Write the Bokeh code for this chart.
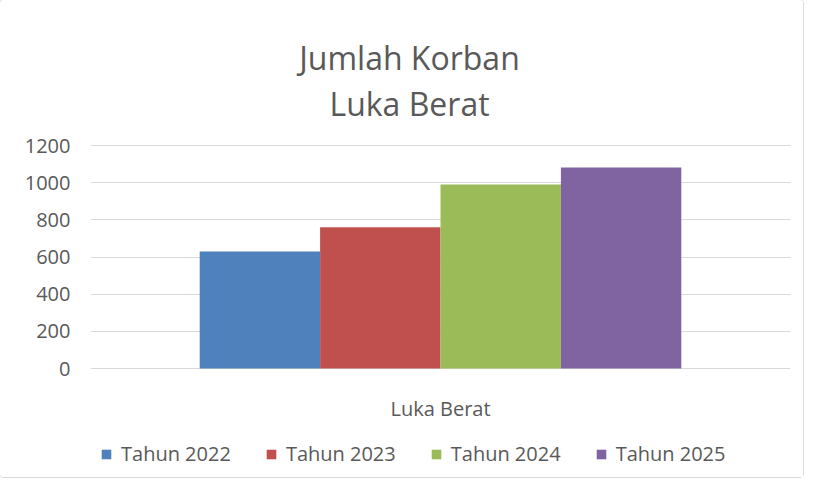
from bokeh.plotting import figure
from bokeh.models import (Label, Legend, LegendItem, FixedTicker, Range1d,
                          ColumnDataSource)
from bokeh.transform import dodge
from bokeh.embed import file_html
from bokeh.resources import INLINE

# ---- data ----
category = ["Luka Berat"]
series_names = ["Tahun 2022", "Tahun 2023", "Tahun 2024", "Tahun 2025"]
series_values = [630, 760, 990, 1082]
y_ticks = [0, 200, 400, 600, 800, 1000, 1200]
title_lines = ["Jumlah Korban", "Luka Berat"]

# ---- styles ----
colors = ["#4F81BD", "#C0504D", "#9BBB59", "#8064A2"]
FONT = "Open Sans"
TXT = "#595959"
GRID = "#d9d9d9"

W, H = 803, 477
PLOT_TOP, PLOT_BOTTOM = 145, 368          # pixel rows of the 1200 / 0 gridlines
y_max = y_ticks[-1]
ppu = (PLOT_BOTTOM - PLOT_TOP) / y_max    # pixels per unit
y_lo = -(H - PLOT_BOTTOM) / ppu
y_hi = y_max + PLOT_TOP / ppu

cat_pos = [i + 0.5 for i in range(len(category))]

p = figure(x_range=Range1d(0, len(category)), y_range=Range1d(y_lo, y_hi),
           width=W, height=H, output_backend="svg", toolbar_location=None,
           min_border_left=90, min_border_right=13, min_border_top=0,
           min_border_bottom=0)
p.outline_line_color = None
p.background_fill_color = "white"
p.border_fill_color = "white"
p.styles = {"outline": "1px solid #d9d9d9", "border-radius": "3px"}

bar_w = 0.172
items = []
for i, (name, v, c) in enumerate(zip(series_names, series_values, colors)):
    src = ColumnDataSource(dict(x=cat_pos, val=[v]))
    r = p.vbar(x=dodge("x", (i - 1.5) * bar_w), top="val", bottom=0,
               width=bar_w, source=src, fill_color=c, line_color=None)
    items.append(LegendItem(label=name, renderers=[r]))

# grid
p.xgrid.grid_line_color = None
p.ygrid.grid_line_color = GRID
p.ygrid.grid_line_width = 1

# y axis
p.yaxis.ticker = FixedTicker(ticks=y_ticks)
p.yaxis.axis_line_color = None
p.yaxis.major_tick_line_color = None
p.yaxis.minor_tick_line_color = None
p.yaxis.major_tick_out = 0
p.yaxis.major_tick_in = 0
p.yaxis.major_label_standoff = 20
p.yaxis.major_label_text_font = FONT
p.yaxis.major_label_text_font_size = "20px"
p.yaxis.major_label_text_color = TXT

# x axis hidden; category names drawn as labels under the bars
p.xaxis.visible = False
for pos, c in zip(cat_pos, category):
    p.add_layout(Label(x=pos, y=H - 408, x_units="data", y_units="screen",
                       text=c, text_align="center", text_baseline="alphabetic",
                       text_font=FONT, text_font_size="20px", text_color=TXT))

# title (two lines)
for line, base in zip(title_lines, [57, 103]):
    p.add_layout(Label(x=319, y=H - base, x_units="screen", y_units="screen",
                       text=line, text_align="center", text_baseline="alphabetic",
                       text_font=FONT, text_font_size="32px", text_color=TXT))

legend = Legend(items=items, orientation="horizontal", location=(10, 10),
                label_text_font=FONT, label_text_font_size="20px",
                label_text_color=TXT, glyph_width=12, glyph_height=12,
                label_standoff=9, spacing=34, padding=0, margin=0,
                border_line_color=None, background_fill_alpha=0)
p.add_layout(legend, "center")

open("out.html", "w").write(file_html(p, INLINE))
